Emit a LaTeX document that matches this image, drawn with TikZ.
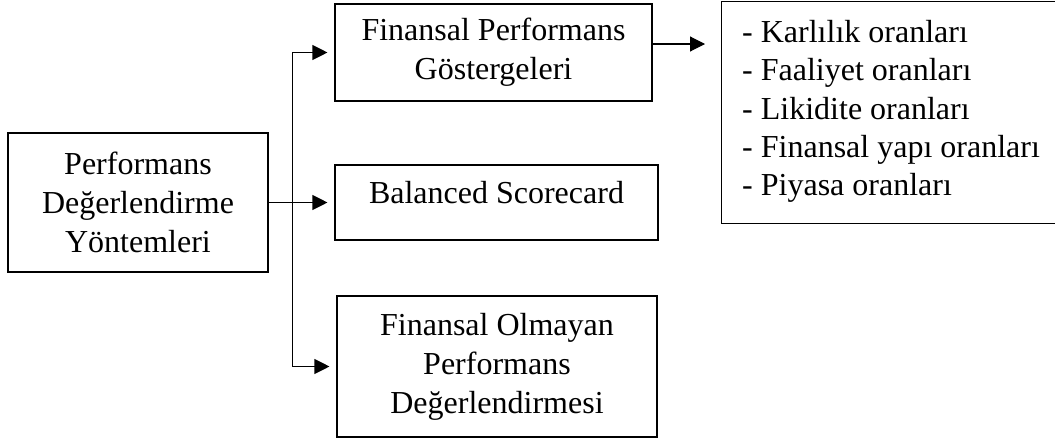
\documentclass[tikz,border=0pt]{standalone}
\usepackage{fontspec}
\setmainfont{Liberation Serif}
\usetikzlibrary{arrows.meta,calc}
\tikzset{
  box/.style={draw, line width=1.1pt, align=center, inner sep=0pt, font=\fontsize{32}{39}\selectfont},
  listbox/.style={draw, line width=1.1pt, inner sep=0pt},
  conn/.style={line width=1.1pt},
  arr/.style={line width=1.1pt, -{Triangle[length=15pt,width=15pt]}},
}
\begin{document}
\begin{tikzpicture}[x=1pt,y=-1pt]
\clip (0,0) rectangle (1055,442);
\fill[white] (0,0) rectangle (1055,442);
\node[box, minimum width=260pt, minimum height=139pt] (perf) at (138,202.5) {Performans\\Değerlendirme\\Yöntemleri};
\node[box, minimum width=317pt, minimum height=97pt] (fpg) at (493.5,52.5) {Finansal Performans\\Göstergeleri};
\node[box, minimum width=323pt, minimum height=75pt, text depth=20pt] (bsc) at (496.5,202.5) {Balanced Scorecard};
\node[box, minimum width=320pt, minimum height=141pt] (fo) at (497,366.5) {Finansal Olmayan\\Performans\\Değerlendirmesi};
\node[listbox, anchor=north west, minimum width=340pt, minimum height=222pt] (list) at (721,1) {};
\node[font=\fontsize{32}{38.3}\selectfont, anchor=north west, align=left, inner sep=0pt] (items) at (742,20) {- Karlılık oranları\\- Faaliyet oranları\\- Likidite oranları\\- Finansal yapı oranları\\- Piyasa oranları};
\coordinate (j) at ($(perf.east)+(24,0)$);
\coordinate (a) at (0,44);
\draw[conn] (perf.east) -- (j);
\draw[arr, shorten >=7pt] (j) |- (fpg.west);
\draw[arr, shorten >=7pt] (j) -- (bsc.west);
\draw[arr, shorten >=7pt] (j) |- (fo.west);
\draw[arr, shorten >=16pt] (fpg.east |- a) -- (list.west |- a);
\end{tikzpicture}
\end{document}
